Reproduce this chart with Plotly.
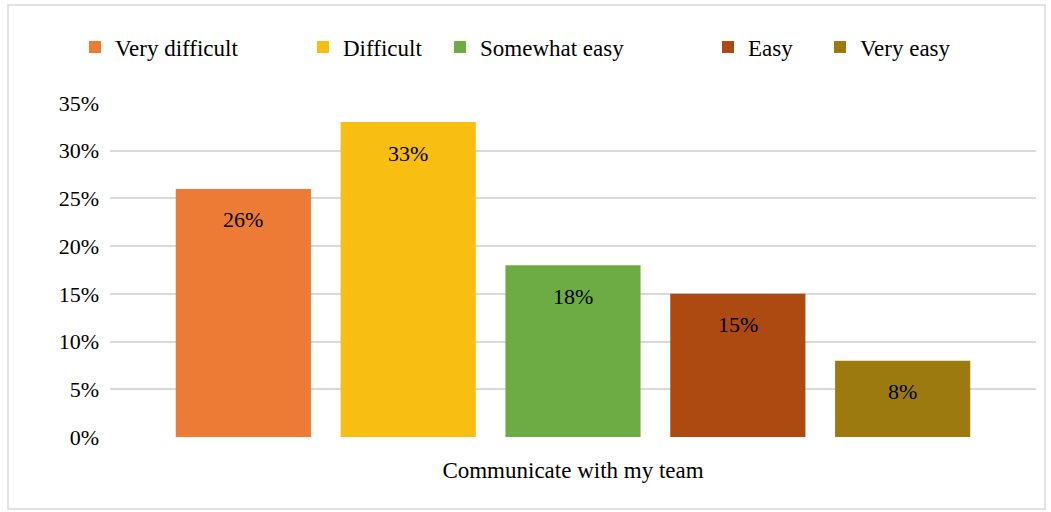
import plotly.graph_objects as go

# Survey results for a single question, one bar per response level
categories = ["Communicate with my team"]
series_names = ["Very difficult", "Difficult", "Somewhat easy", "Easy", "Very easy"]
series_values = [0.26, 0.33, 0.18, 0.15, 0.08]
series_colors = ["#ED7A35", "#F8BE12", "#6DAC44", "#AC4A12", "#9D7A10"]
y_ticks = [0, 0.05, 0.10, 0.15, 0.20, 0.25, 0.30, 0.35]

FONT = '"Times New Roman", "Liberation Serif", serif'
W, H = 1051, 512
L, R, T, B = 110, 15, 103, 75
BARGAP = 0.11
BARGROUPGAP = 0.18

# left edge of each legend entry's text, in pixels
legend_text_x = [115, 343, 480, 748, 860]

fig = go.Figure()
n = len(series_names)
for i, (name, val, col) in enumerate(zip(series_names, series_values, series_colors)):
    lg = "legend" if i == 0 else f"legend{i + 1}"
    fig.add_trace(go.Bar(
        x=categories, y=[val], name=name,
        marker=dict(color=col, line=dict(width=0)),
        legend=lg,
        hoverinfo="skip",
    ))
    # value label just inside the top of each bar
    fig.add_annotation(
        x=(i - (n - 1) / 2) * (1 - BARGAP) / n, y=val,
        xref="x", yref="y",
        text=f"{val:.0%}", showarrow=False,
        yanchor="middle", yshift=-31,
        font=dict(family=FONT, size=22, color="#000000"),
    )

legends = {}
for i, tx in enumerate(legend_text_x):
    key = "legend" if i == 0 else f"legend{i + 1}"
    legends[key] = dict(
        xref="container", yref="container",
        x=(tx - 40) / W, xanchor="left",
        y=1 - 47 / H, yanchor="middle",
        orientation="h",
        bgcolor="rgba(0,0,0,0)",
        font=dict(family=FONT, size=23, color="#000000"),
        borderwidth=0,
    )

# light frame around the whole chart
pw, ph = W - L - R, H - T - B
fig.add_shape(
    type="rect", xref="paper", yref="paper",
    x0=(8 - L) / pw, x1=(1045 - L) / pw,
    y0=(H - B - 509) / ph, y1=(H - B - 5) / ph,
    line=dict(color="#D9D9D9", width=1.5),
    fillcolor="rgba(0,0,0,0)", layer="below",
)

fig.update_layout(
    width=W, height=H,
    margin=dict(l=L, r=R, t=T, b=B),
    paper_bgcolor="white", plot_bgcolor="white",
    barmode="group", bargap=BARGAP, bargroupgap=BARGROUPGAP,
    font=dict(family=FONT, size=22, color="#000000"),
    showlegend=True,
    **legends,
)
fig.update_yaxes(
    range=[0, 0.35], tickvals=y_ticks, tickformat=".0%",
    showgrid=True, gridcolor="#D9D9D9", gridwidth=1.5,
    zeroline=False, showline=False, ticks="",
    ticklabelstandoff=10,
    tickfont=dict(family=FONT, size=22, color="#000000"),
)
fig.update_xaxes(
    showgrid=False, showline=False, ticks="", zeroline=False,
    ticklabelstandoff=17,
    tickfont=dict(family=FONT, size=23, color="#000000"),
)

fig.write_html("out.html")
